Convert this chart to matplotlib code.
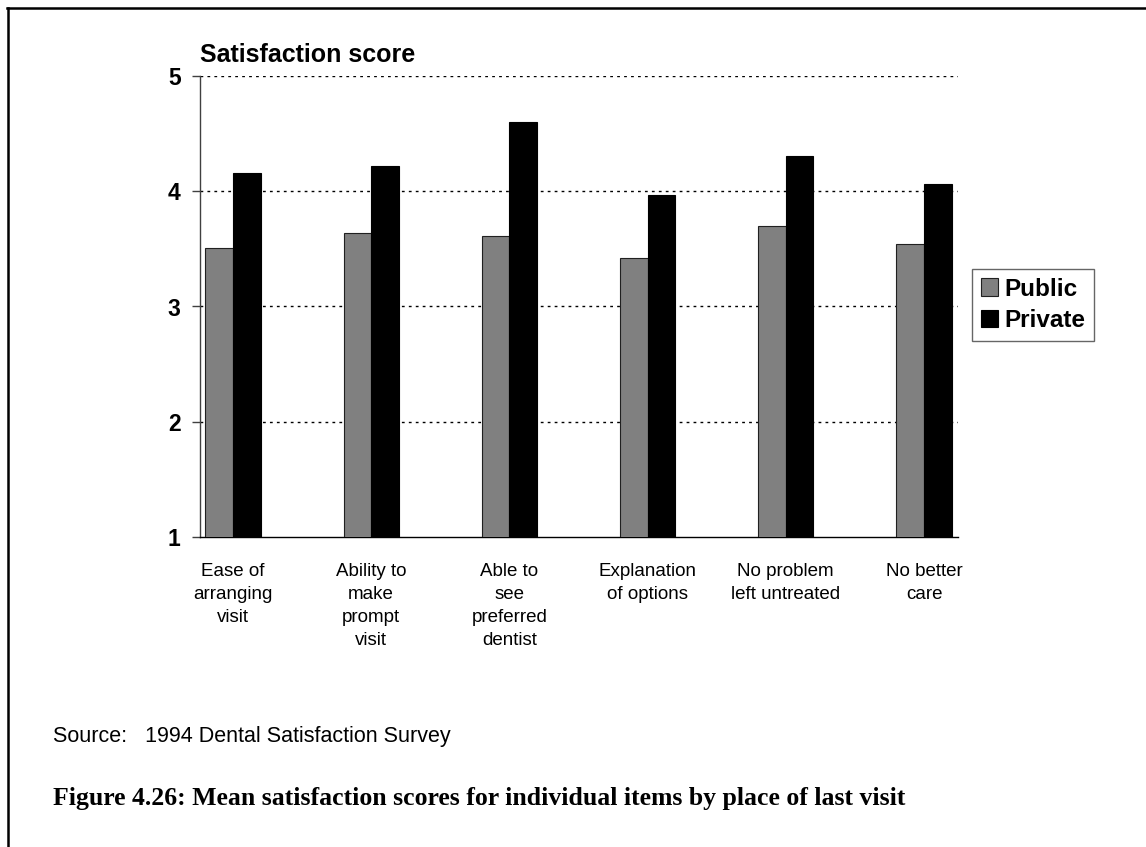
import matplotlib
matplotlib.use("Agg")
import matplotlib.pyplot as plt
import numpy as np
from matplotlib.lines import Line2D

plt.rcParams["font.family"] = ["Liberation Sans", "DejaVu Sans"]

# ------------------ data ------------------
categories = [
    "Ease of\narranging\nvisit",
    "Ability to\nmake\nprompt\nvisit",
    "Able to\nsee\npreferred\ndentist",
    "Explanation\nof options",
    "No problem\nleft untreated",
    "No better\ncare",
]
public = [3.51, 3.64, 3.61, 3.42, 3.70, 3.54]
private = [4.16, 4.22, 4.60, 3.97, 4.31, 4.06]
series_names = ["Public", "Private"]
y_ticks = [1, 2, 3, 4, 5]

W, H = 1146, 847
fig = plt.figure(figsize=(W / 100, H / 100), dpi=100)

# axes placed in pixel terms of the reference
ax = fig.add_axes([200 / W, 1 - 537 / H, (958 - 200) / W, (537 - 76) / H])

x = np.arange(len(categories))
bw = 0.2
ax.bar(x - bw / 2, public, bw, bottom=0, color="#808080",
       edgecolor="#202020", linewidth=0.8, label=series_names[0], zorder=3)
ax.bar(x + bw / 2, private, bw, bottom=0, color="black",
       edgecolor="black", linewidth=0.8, label=series_names[1], zorder=3)

ax.set_ylim(1, 5)
ax.set_xlim(-0.239, 5.246)
ax.set_yticks(y_ticks)
ax.set_yticklabels([str(t) for t in y_ticks], fontsize=16.5, fontweight="bold")
ax.tick_params(axis="y", length=6, width=1, color="#404040", pad=8)

ax.set_xticks(x)
ax.set_xticklabels(categories, fontsize=13.5, linespacing=1.45, va="top")
ax.tick_params(axis="x", length=0, pad=19)

# dotted grid lines
for t in y_ticks[1:]:
    ax.axhline(t, color="black", linestyle=(0, (2, 3)), linewidth=1, zorder=1)

for s in ["top", "right"]:
    ax.spines[s].set_visible(False)
ax.spines["left"].set_color("#404040")
ax.spines["left"].set_linewidth(1)
ax.spines["bottom"].set_color("black")
ax.spines["bottom"].set_linewidth(1)

fig.text(200 / W, 1 - 62 / H, "Satisfaction score", fontsize=18,
         fontweight="bold", va="baseline", ha="left")

leg = fig.legend(loc="upper left", bbox_to_anchor=(972 / W, 1 - 269 / H),
                 frameon=True, fancybox=False, prop={"size": 17.5, "weight": "bold"},
                 handlelength=0.7, handleheight=0.7, handletextpad=0.3,
                 borderpad=0.35, labelspacing=0.35, borderaxespad=0)
leg.get_frame().set_edgecolor("#404040")
leg.get_frame().set_linewidth(1)

fig.text(53 / W, 1 - 736 / H, "Source:   1994 Dental Satisfaction Survey",
         fontsize=15.5, va="center", ha="left")
fig.text(53 / W, 1 - 798 / H,
         "Figure 4.26: Mean satisfaction scores for individual items by place of last visit",
         fontsize=18.5, fontweight="bold", family=["Liberation Serif", "DejaVu Serif"],
         va="center", ha="left")

# page frame: top and left edges only
fig.add_artist(Line2D([7 / W, 1], [1 - 8.5 / H, 1 - 8.5 / H],
                      transform=fig.transFigure, color="black", linewidth=1.8))
fig.add_artist(Line2D([7.5 / W, 7.5 / W], [0, 1 - 8.5 / H],
                      transform=fig.transFigure, color="black", linewidth=1.8))

fig.savefig("out.png", dpi=100)
